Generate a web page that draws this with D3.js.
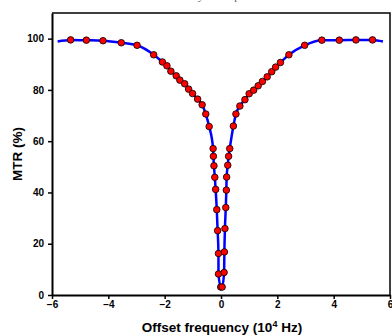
<!DOCTYPE html>
<html>
<head>
<meta charset="utf-8">
<script src="https://cdn.jsdelivr.net/npm/d3@7"></script>
<style>
  body { margin: 0; background: #fff; }
  svg { display: block; }
</style>
</head>
<body>
<div id="chart"></div>
<script>
// measured points (offset in 10^4 Hz, MTR in %)
const offsetLeft = [-5.34, -4.78, -4.19, -3.54, -2.98, -2.39, -2.08, -1.92, -1.78, -1.59, -1.46, -1.29, -1.15, -1.01, -0.83, -0.67, -0.54,
                    -0.42, -0.28, -0.27, -0.25, -0.22, -0.19, -0.15, -0.12, -0.09, -0.09, -0.01];
const mtrLeft = [99.5, 99.4, 99.2, 98.4, 97.4, 93.7, 90.9, 89.4, 87.3, 85.5, 83.8, 82.4, 80.3, 78.6, 76.4, 74.2, 70.6,
                 65.7, 57.1, 54.1, 50.4, 45.9, 41.2, 33.3, 25.1, 16.2, 8.2, 3.1];
const offsetRight = [0.04, 0.11, 0.12, 0.14, 0.17, 0.19, 0.20, 0.24, 0.27, 0.31, 0.44,
                     0.53, 0.67, 0.85, 1.00, 1.16, 1.32, 1.47, 1.64, 1.80, 1.94, 2.11, 2.41, 2.97, 3.58, 4.20, 4.79, 5.38];
const mtrRight = [3.1, 8.8, 16.8, 25.9, 34.1, 40.9, 46.0, 50.6, 54.1, 57.1, 65.9,
                  70.6, 73.7, 76.2, 78.5, 79.9, 81.6, 83.3, 85.1, 87.1, 88.9, 90.7, 93.7, 97.4, 99.4, 99.4, 99.5, 99.5];
// ends of the fitted curve beyond the measured range
const curveEndX = [-5.8, 5.75];
const curveEndY = [98.9, 98.9];

const xTicks = [-6, -4, -2, 0, 2, 4, 6];
const yTicks = [0, 20, 40, 60, 80, 100];

const width = 392, height = 335;
const margin = { top: 13, right: 2, bottom: 40, left: 52 };

const svg = d3.select("#chart").append("svg")
    .attr("width", width)
    .attr("height", height);

const x = d3.scaleLinear().domain([-6, 6]).range([margin.left, width - margin.right]);
const y = d3.scaleLinear().domain([0, 110]).range([height - margin.bottom, margin.top]);

// cropped title at the very top
svg.append("text")
    .attr("x", 222)
    .attr("y", 0)
    .attr("text-anchor", "middle")
    .attr("font-family", "Liberation Serif, serif")
    .attr("font-size", 11)
    .attr("fill", "#555")
    .text("Steady-state spectrum");

// frame (top + right)
svg.append("path")
    .attr("d", `M${x(-6)},${y(110)}H${x(6)}V${y(0)}`)
    .attr("fill", "none")
    .attr("stroke", "#000")
    .attr("stroke-width", 1.5);

const font = "Liberation Sans, Arial, sans-serif";

const xAxis = svg.append("g")
    .attr("transform", `translate(0,${y(0)})`)
    .call(d3.axisBottom(x).tickValues(xTicks).tickSize(4).tickSizeOuter(0).tickFormat(d3.format("d")));
const yAxis = svg.append("g")
    .attr("transform", `translate(${x(-6)},0)`)
    .call(d3.axisLeft(y).tickValues(yTicks).tickSize(4).tickSizeOuter(0).tickFormat(d3.format("d")));

[xAxis, yAxis].forEach(g => {
    g.select(".domain").attr("stroke-width", 2);
    g.selectAll(".tick line").attr("stroke-width", 1.5);
    g.selectAll("text")
        .attr("font-family", font)
        .attr("font-weight", "bold")
        .attr("font-size", 10)
        .attr("fill", "#000");
});
xAxis.selectAll("text").attr("dy", "0.6em");
yAxis.selectAll("text").attr("dx", "-0.1em");

// axis titles
const xLabel = svg.append("text")
    .attr("x", 222)
    .attr("y", 332)
    .attr("text-anchor", "middle")
    .attr("font-family", font)
    .attr("font-weight", "bold")
    .attr("font-size", 13.5);
xLabel.append("tspan").text("Offset frequency (10");
xLabel.append("tspan").attr("baseline-shift", "super").attr("font-size", 9).text("4");
xLabel.append("tspan").text(" Hz)");

svg.append("text")
    .attr("transform", `translate(22,${(y(0) + y(110)) / 2}) rotate(-90)`)
    .attr("text-anchor", "middle")
    .attr("font-family", font)
    .attr("font-weight", "bold")
    .attr("font-size", 13.5)
    .text("MTR (%)");

// data
const points = offsetLeft.map((d, i) => ({ x: d, y: mtrLeft[i] }))
    .concat(offsetRight.map((d, i) => ({ x: d, y: mtrRight[i] })));
const curve = [{ x: curveEndX[0], y: curveEndY[0] }]
    .concat(points)
    .concat([{ x: curveEndX[1], y: curveEndY[1] }])
    .sort((a, b) => a.x - b.x);

const line = d3.line()
    .x(d => x(d.x))
    .y(d => y(d.y))
    .curve(d3.curveMonotoneX);

svg.append("path")
    .datum(curve)
    .attr("d", line)
    .attr("fill", "none")
    .attr("stroke", "#0000ff")
    .attr("stroke-width", 2.5)
    .attr("stroke-linejoin", "round");

svg.append("g")
    .selectAll("circle")
    .data(points)
    .join("circle")
    .attr("cx", d => x(d.x))
    .attr("cy", d => y(d.y))
    .attr("r", 3.3)
    .attr("fill", "#ff0000")
    .attr("stroke", "#000")
    .attr("stroke-width", 0.8);
</script>
</body>
</html>
